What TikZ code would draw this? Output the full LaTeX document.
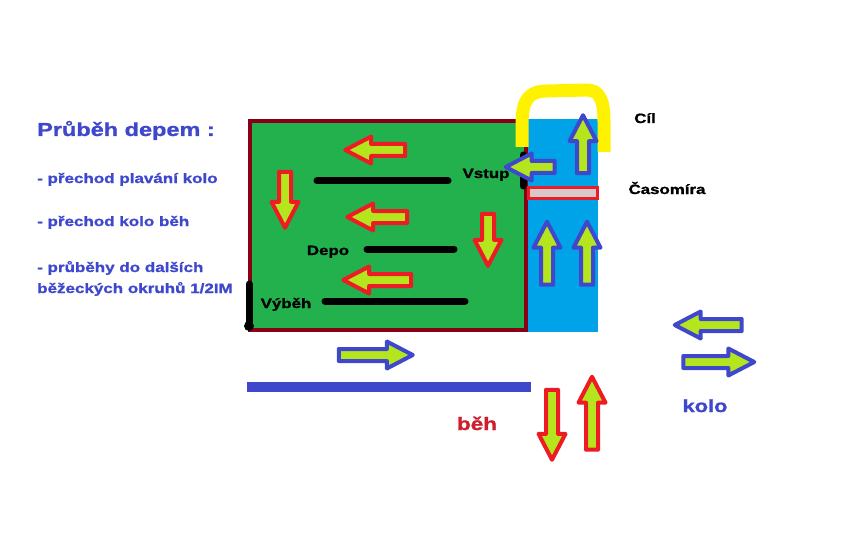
\documentclass[tikz,border=0pt]{standalone}
\usepackage{fontspec}
\setmainfont{Liberation Sans}[FakeStretch=1.25, BoldFeatures={FakeBold=1.2}]
\usetikzlibrary{shapes.arrows}
\definecolor{paintgreen}{RGB}{34,177,76}
\definecolor{paintmaroon}{RGB}{136,0,21}
\definecolor{paintcyan}{RGB}{0,162,232}
\definecolor{paintyellow}{RGB}{255,242,0}
\definecolor{paintlime}{RGB}{181,230,29}
\definecolor{paintred}{RGB}{237,28,36}
\definecolor{paintindigo}{RGB}{63,72,204}
\definecolor{paintrose}{RGB}{216,200,204}
\definecolor{runred}{RGB}{205,30,45}
\tikzset{
	fatarrow/.style={single arrow, draw=#1, fill=paintlime, line width=4pt, line join=round, inner sep=4pt, outer sep=0pt, single arrow head extend=7.5pt, single arrow tip angle=55},
	runarrow/.style={fatarrow=paintred},
	bikearrow/.style={fatarrow=paintindigo},
	bluetxt/.style={text=paintindigo, font=\bfseries\fontsize{13.6}{16}\selectfont, anchor=base west, inner sep=0pt},
	blacktxt/.style={font=\bfseries\fontsize{13.5}{16}\selectfont, anchor=base, inner sep=0pt},
	lane/.style={line width=7pt, line cap=round}
}

\begin{document}
\begin{tikzpicture}[x=1pt, y=-1pt]
	\useasboundingbox (0,0) rectangle (864,540);

	% depo and swim exit
	\fill [paintcyan] (528,119) rectangle (598,332);
	\draw [paintmaroon, line width=3.5pt, fill=paintgreen] (250,121) rectangle (526,330);
	\draw [paintyellow, line width=13pt, line join=round] (522,147) -- (522,124) .. controls (522,98) and (530,91) .. (548,91) -- (586,90) .. controls (600,90) and (604,100) .. (604,122) -- (604,152);
	\draw [paintred, line width=3pt, fill=paintrose] (528,187.5) rectangle (597,198.5);

	% racks
	\draw [lane] (317,181) -- (448,181);
	\draw [lane] (367,249) -- (454,249);
	\draw [lane] (325,301) -- (465,301);
	\draw [lane] (523,155) -- (523,186);
	\draw [lane] (249,284) -- (249,325);
	\fill (249,326) circle [radius=5];
	\draw [paintindigo, line width=10pt] (247,387) -- (531,387);

	\node [bluetxt, font=\bfseries\fontsize{18.8}{22}\selectfont] (title) at (37,136) {Průběh depem :};
	\node [bluetxt] (item1) at (37,183) {- přechod plavání kolo};
	\node [bluetxt] (item2) at (37,226) {- přechod kolo běh};
	\node [bluetxt] (item3) at (37,272) {- průběhy do dalších};
	\node [bluetxt] (item4) at (37,293) {běžeckých okruhů 1/2IM};

	\node [blacktxt] (cil) at (645,123) {Cíl};
	\node [blacktxt] (casomira) at (667,194) {Časomíra};
	\node [blacktxt] (vstup) at (486,178) {Vstup};
	\node [blacktxt] (depo) at (328,255) {Depo};
	\node [blacktxt] (vybeh) at (286,308) {Výběh};
	\node [blacktxt, text=runred, font=\bfseries\fontsize{18}{22}\selectfont] (beh) at (477,430) {běh};
	\node [blacktxt, text=paintindigo, font=\bfseries\fontsize{17.5}{22}\selectfont] (kolo) at (705,412) {kolo};

	% run arrows
	\node [runarrow, minimum height=60pt, shape border rotate=180] (r1) at (381,150) {};
	\node [runarrow, minimum height=60pt, shape border rotate=180] (r2) at (383,217) {};
	\node [runarrow, minimum height=68pt, shape border rotate=180] (r3) at (383,280) {};
	\node [runarrow, minimum height=56pt, shape border rotate=270] (r4) at (285,194) {};
	\node [runarrow, minimum height=52pt, shape border rotate=270] (r5) at (488,234) {};
	\node [runarrow, minimum height=70pt, shape border rotate=270] (r6) at (552,419) {};
	\node [runarrow, minimum height=73pt, shape border rotate=90] (r7) at (592,419) {};

	% bike arrows
	\node [bikearrow, minimum height=49pt, shape border rotate=180] (b1) at (536,167) {};
	\node [bikearrow, minimum height=58pt, shape border rotate=90] (b2) at (583,150) {};
	\node [bikearrow, minimum height=63pt, shape border rotate=90] (b3) at (547,259) {};
	\node [bikearrow, minimum height=63pt, shape border rotate=90] (b4) at (587,259) {};
	\node [bikearrow, minimum height=74pt] (b5) at (370,355) {};
	\node [bikearrow, minimum height=67pt, shape border rotate=180] (b6) at (714,325) {};
	\node [bikearrow, minimum height=71pt] (b7) at (713,362) {};
\end{tikzpicture}
\end{document}
